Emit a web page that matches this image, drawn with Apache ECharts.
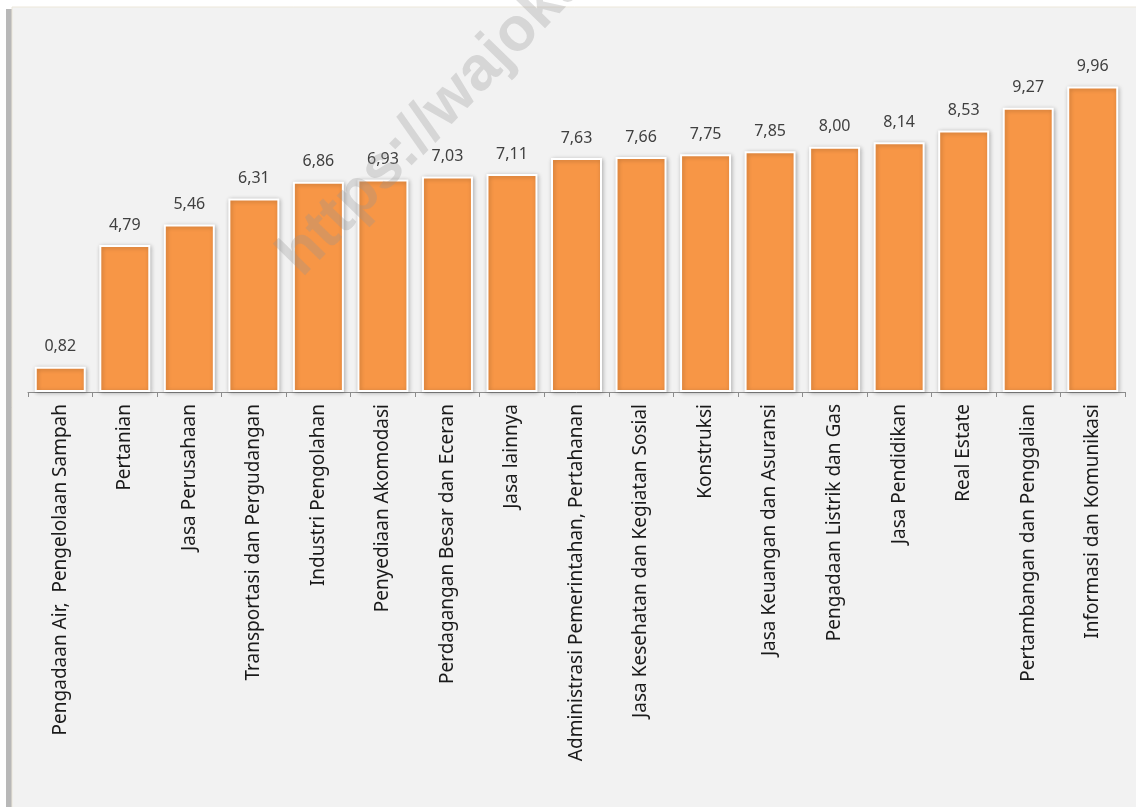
<!DOCTYPE html>
<html>
<head>
<meta charset="utf-8">
<script src="https://cdn.jsdelivr.net/npm/echarts@6/dist/echarts.min.js"></script>
<style>
html,body{margin:0;padding:0;background:#ffffff;}
#chart{width:1136px;height:807px;}
</style>
</head>
<body>
<div id="chart"></div>
<script>
var categories = [
  "Pengadaan Air,  Pengelolaan Sampah",
  "Pertanian",
  "Jasa Perusahaan",
  "Transportasi dan Pergudangan",
  "Industri Pengolahan",
  "Penyediaan Akomodasi",
  "Perdagangan Besar dan Eceran",
  "Jasa lainnya",
  "Administrasi Pemerintahan, Pertahanan",
  "Jasa Kesehatan dan Kegiatan Sosial",
  "Konstruksi",
  "Jasa Keuangan dan Asuransi",
  "Pengadaan Listrik dan Gas",
  "Jasa Pendidikan",
  "Real Estate",
  "Pertambangan dan Penggalian",
  "Informasi dan Komunikasi"
];
var values = [0.82, 4.79, 5.46, 6.31, 6.86, 6.93, 7.03, 7.11, 7.63, 7.66, 7.75, 7.85, 8.00, 8.14, 8.53, 9.27, 9.96];
var watermark = "https://wajokab.bps.go.id";

var chart = echarts.init(document.getElementById('chart'), null, {renderer:'canvas'});
var option = {
  animation: false,
  backgroundColor: '#ffffff',
  graphic: [
    { type: 'rect', z: -10, shape: {x: 6, y: 9, width: 1140, height: 810},
      style: {fill: '#b8b8b8'} },
    { type: 'rect', z: -9, shape: {x: 12, y: 7, width: 1130, height: 810},
      style: {fill: '#f2f2f2', stroke: '#ece7da', lineWidth: 1} },
    { type: 'text', z: 100, x: 312, y: 288, rotation: 0.80,
      style: {text: watermark, fill: 'rgba(150,150,150,0.30)', font: 'bold 62px "Liberation Sans", Arial, sans-serif', textAlign: 'left', textVerticalAlign: 'bottom'} }
  ],
  grid: {left: 28, right: 11, top: 24, bottom: 415, containLabel: false},
  xAxis: {
    type: 'category',
    data: categories,
    axisLine: {show: true, lineStyle: {color: '#8c8c8c', width: 1}},
    axisTick: {show: true, alignWithLabel: false, length: 5, lineStyle: {color: '#8c8c8c'}},
    axisLabel: {rotate: 90, interval: 0, margin: 12, color: '#1a1a1a', fontSize: 19, fontFamily: '"Noto Sans", "Open Sans", sans-serif'}
  },
  yAxis: {
    type: 'value', min: 0, max: 12, show: false,
    splitLine: {show: false}
  },
  series: [{
    type: 'bar',
    data: values,
    barWidth: 51,
    itemStyle: {color: '#F79646', borderColor: '#ffffff', borderWidth: 2,
      shadowBlur: 4, shadowColor: 'rgba(0,0,0,0.25)', shadowOffsetX: 1, shadowOffsetY: 1},
    label: {show: true, position: 'top', distance: 12, color: '#404040', fontSize: 16,
      fontFamily: '"Noto Sans", "Open Sans", sans-serif',
      formatter: function(p){ return p.value.toFixed(2).replace('.', ','); }}
  }]
};
chart.setOption(option);
</script>
</body>
</html>
